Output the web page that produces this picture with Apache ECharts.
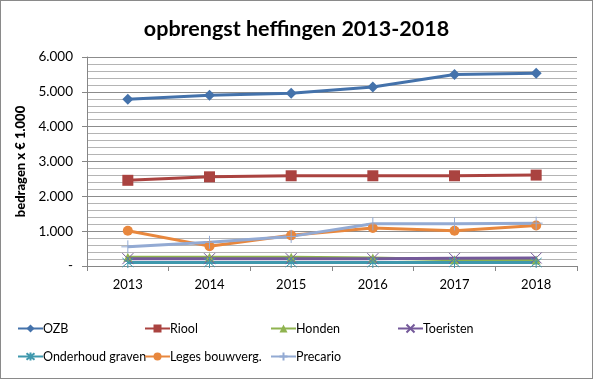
<!DOCTYPE html>
<html><head><meta charset="utf-8">
<script src="https://cdn.jsdelivr.net/npm/echarts@6/dist/echarts.min.js"></script>
<style>html,body{margin:0;padding:0;background:#fff}#c{width:593px;height:379px;box-sizing:border-box;border:1px solid #8a8a8a}</style>
</head><body><div id="c"></div>
<script>
const categories = ['2013','2014','2015','2016','2017','2018'];
const seriesNames = ['OZB','Riool','Honden','Toeristen','Onderhoud graven','Leges bouwverg.','Precario'];
const ozb = [4790, 4900, 4960, 5140, 5500, 5530];
const riool = [2460, 2560, 2590, 2590, 2590, 2610];
const honden = [250, 250, 250, 230, 180, 170];
const toeristen = [210, 210, 210, 210, 220, 230];
const onderhoudGraven = [100, 100, 100, 100, 100, 100];
const leges = [1010, 570, 880, 1090, 1010, 1165];
const precario = [550, 680, 850, 1210, 1210, 1230];
const yTicks = [0, 1000, 2000, 3000, 4000, 5000, 6000];

const values = [ozb, riool, honden, toeristen, onderhoudGraven, leges, precario];
const colors = ['#4472ab','#aa4340','#8fb34f','#74599a','#3f98ad','#e8873d','#93aad3'];
const X = 'path://M0,0L10,10M10,0L0,10';
const STAR = 'path://M0,0L10,10M10,0L0,10M5,-1L5,11';
const PLUS = 'path://M5,0L5,10M0,5L10,5';
const symbols = ['diamond','rect','triangle',X,STAR,'circle',PLUS];
const sizes = [11,11,9,11,11,10,13];

const font = 'Lato, "Open Sans", sans-serif';
const chart = echarts.init(document.getElementById('c'), null, {renderer:'canvas'});

const series = seriesNames.map((n,i)=>{
  const stroked = typeof symbols[i]==='string' && symbols[i].startsWith('path://');
  return {
    name:n, type:'line', data: values[i], symbol: symbols[i], symbolSize: sizes[i],
    showAllSymbol:true,
    lineStyle:{color:colors[i], width:3},
    itemStyle: stroked ? {color:'rgba(0,0,0,0)', borderColor:colors[i], borderWidth:1} : {color:colors[i]},
    emphasis:{disabled:true}
  };
});

const legendPos = [[11,316],[138,316],[264,316],[391,316],[11,344],[138,344],[264,344]];
const legends = seriesNames.map((n,i)=>({
  data:[n], left:legendPos[i][0], top:legendPos[i][1], itemWidth:25, itemHeight:10, itemGap:0,
  textStyle:{fontFamily:font, fontSize:12.5, color:'#000', padding:[0,0,0,-5]},
  selectedMode:false
}));

chart.setOption({
  animation:false,
  title:{text:'opbrengst heffingen 2013-2018', left:'center', top:12,
    textStyle:{fontFamily:font, fontSize:21.5, fontWeight:'bold', color:'#000'}},
  legend: legends,
  grid:{left:86, right:15, top:56, bottom:112, containLabel:false},
  xAxis:{type:'category', data:categories, boundaryGap:true,
    axisLine:{lineStyle:{color:'#868686', width:1}},
    axisTick:{show:true, length:5, lineStyle:{color:'#868686'}},
    axisLabel:{fontFamily:font, fontSize:13, color:'#000', margin:12}},
  yAxis:{type:'value', min:yTicks[0], max:yTicks[yTicks.length-1], interval:1000,
    name:'bedragen x € 1.000', nameLocation:'middle', nameGap:54, nameRotate:90,
    nameTextStyle:{fontFamily:font, fontSize:13, fontWeight:900, color:'#000'},
    axisLine:{show:true, lineStyle:{color:'#868686'}},
    axisTick:{show:true, length:5, lineStyle:{color:'#868686'}},
    axisLabel:{fontFamily:font, fontSize:13.5, color:'#000', margin:14,
      formatter:v=> v===0 ? '-' : (v/1000).toFixed(0)+'.000'},
    splitLine:{show:true, lineStyle:{color:'#8c8c8c', width:1}},
    minorTick:{show:false, splitNumber:5},
    minorSplitLine:{show:true, lineStyle:{color:'#b4b4b4', width:1}}},
  series: series
});
</script></body></html>
